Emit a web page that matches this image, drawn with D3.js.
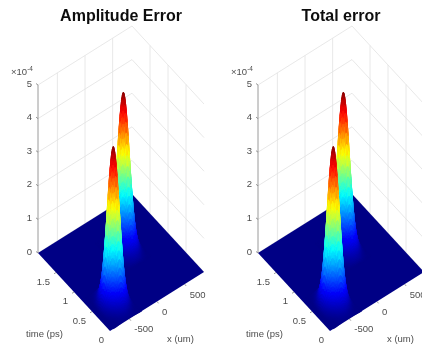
<!DOCTYPE html>
<html>
<head>
<meta charset="utf-8">
<script src="https://cdn.jsdelivr.net/npm/d3@7"></script>
<style>
  html, body { margin: 0; padding: 0; background: #fff; overflow: hidden; }
  text { font-family: "Liberation Sans", Arial, sans-serif; fill: #4d4d4d; font-size: 9.5px; filter: url(#softText); }
  .title { font-size: 16px; font-weight: bold; fill: #111; text-anchor: middle; }
</style>
</head>
<body>
<svg id="chart" width="422" height="350">
  <defs>
    <filter id="soft" x="-5%" y="-5%" width="110%" height="110%"><feGaussianBlur stdDeviation="0.45"/></filter>
    <filter id="softText" x="-10%" y="-20%" width="120%" height="140%"><feGaussianBlur stdDeviation="0.3"/></filter>
  </defs>
</svg>
<script>
// Values
const titles = ['Amplitude Error', 'Total error'];
const xTicks = [-500, 0, 500];
const timeTicks = [0, 0.5, 1, 1.5];
const zTicks = [0, 1, 2, 3, 4, 5];
const xRange = [-850, 850];
const timeRange = [0, 2];
const zRange = [0, 5];

// surface around the two peaks, z in units of 1e-4, rows = time, columns = x
const frontX = [-788, -745, -702, -659, -616, -573, -530, -487, -444, -401, -358, -315, -272];
const frontT = [0, 0.05, 0.1, 0.15, 0.2, 0.25, 0.3, 0.35, 0.4, 0.45, 0.5, 0.55, 0.6, 0.65, 0.7, 0.75, 0.8];
const frontZ = [
  [0, 0, 0.01, 0.02, 0.03, 0.04, 0.05, 0.04, 0.03, 0.02, 0.01, 0, 0],
  [0, 0.01, 0.01, 0.03, 0.05, 0.08, 0.09, 0.08, 0.05, 0.03, 0.01, 0.01, 0],
  [0, 0.01, 0.02, 0.06, 0.11, 0.16, 0.19, 0.16, 0.11, 0.06, 0.02, 0.01, 0],
  [0, 0.02, 0.05, 0.13, 0.24, 0.35, 0.40, 0.35, 0.24, 0.13, 0.05, 0.02, 0],
  [0, 0.04, 0.12, 0.29, 0.54, 0.78, 0.89, 0.78, 0.54, 0.29, 0.12, 0.04, 0],
  [0, 0.08, 0.24, 0.58, 1.07, 1.56, 1.77, 1.56, 1.07, 0.58, 0.24, 0.08, 0],
  [0, 0.13, 0.40, 0.95, 1.78, 2.59, 2.93, 2.59, 1.78, 0.95, 0.40, 0.13, 0],
  [0, 0.18, 0.56, 1.35, 2.51, 3.65, 4.14, 3.65, 2.51, 1.35, 0.56, 0.18, 0],
  [0, 0.21, 0.63, 1.53, 2.85, 4.15, 4.70, 4.15, 2.85, 1.53, 0.63, 0.21, 0],
  [0, 0.18, 0.56, 1.35, 2.51, 3.65, 4.14, 3.65, 2.51, 1.35, 0.56, 0.18, 0],
  [0, 0.13, 0.40, 0.95, 1.78, 2.59, 2.93, 2.59, 1.78, 0.95, 0.40, 0.13, 0],
  [0, 0.08, 0.24, 0.58, 1.07, 1.56, 1.77, 1.56, 1.07, 0.58, 0.24, 0.08, 0],
  [0, 0.04, 0.13, 0.32, 0.59, 0.85, 0.97, 0.85, 0.59, 0.32, 0.13, 0.04, 0],
  [0, 0.02, 0.07, 0.16, 0.30, 0.44, 0.50, 0.44, 0.30, 0.16, 0.07, 0.02, 0],
  [0, 0.01, 0.03, 0.08, 0.15, 0.22, 0.25, 0.22, 0.15, 0.08, 0.03, 0.01, 0],
  [0, 0.01, 0.02, 0.04, 0.08, 0.11, 0.13, 0.11, 0.08, 0.04, 0.02, 0.01, 0],
  [0, 0, 0, 0, 0, 0, 0, 0, 0, 0, 0, 0, 0]
];
const backX = [-98, -55, -12, 31, 74, 117, 160, 203, 246, 289, 332, 375, 418];
const backT = [0.78, 0.83, 0.88, 0.93, 0.98, 1.03, 1.08, 1.13, 1.18, 1.23, 1.28, 1.33, 1.38, 1.43, 1.48, 1.53, 1.58];
const backZ = [
  [0, 0, 0, 0, 0, 0, 0, 0, 0, 0, 0, 0, 0],
  [0, 0.01, 0.02, 0.04, 0.08, 0.11, 0.13, 0.11, 0.08, 0.04, 0.02, 0.01, 0],
  [0, 0.01, 0.03, 0.08, 0.15, 0.22, 0.25, 0.22, 0.15, 0.08, 0.03, 0.01, 0],
  [0, 0.02, 0.07, 0.16, 0.30, 0.44, 0.50, 0.44, 0.30, 0.16, 0.07, 0.02, 0],
  [0, 0.04, 0.13, 0.32, 0.59, 0.85, 0.97, 0.85, 0.59, 0.32, 0.13, 0.04, 0],
  [0, 0.08, 0.24, 0.58, 1.07, 1.56, 1.77, 1.56, 1.07, 0.58, 0.24, 0.08, 0],
  [0, 0.13, 0.40, 0.95, 1.78, 2.59, 2.93, 2.59, 1.78, 0.95, 0.40, 0.13, 0],
  [0, 0.18, 0.56, 1.35, 2.51, 3.65, 4.14, 3.65, 2.51, 1.35, 0.56, 0.18, 0],
  [0, 0.21, 0.63, 1.53, 2.85, 4.15, 4.70, 4.15, 2.85, 1.53, 0.63, 0.21, 0],
  [0, 0.18, 0.56, 1.35, 2.51, 3.65, 4.14, 3.65, 2.51, 1.35, 0.56, 0.18, 0],
  [0, 0.13, 0.40, 0.95, 1.78, 2.59, 2.93, 2.59, 1.78, 0.95, 0.40, 0.13, 0],
  [0, 0.08, 0.24, 0.58, 1.07, 1.56, 1.77, 1.56, 1.07, 0.58, 0.24, 0.08, 0],
  [0, 0.04, 0.13, 0.32, 0.59, 0.85, 0.97, 0.85, 0.59, 0.32, 0.13, 0.04, 0],
  [0, 0.02, 0.07, 0.16, 0.30, 0.44, 0.50, 0.44, 0.30, 0.16, 0.07, 0.02, 0],
  [0, 0.01, 0.03, 0.08, 0.15, 0.22, 0.25, 0.22, 0.15, 0.08, 0.03, 0.01, 0],
  [0, 0.01, 0.02, 0.04, 0.08, 0.11, 0.13, 0.11, 0.08, 0.04, 0.02, 0.01, 0],
  [0, 0, 0, 0, 0, 0, 0, 0, 0, 0, 0, 0, 0]
];

// jet colormap
const jet = d3.scaleLinear()
    .domain([0, 0.5875, 1.7625, 2.9375, 4.1125, 4.7])
    .range(['#000085', '#0000ff', '#00ffff', '#ffff00', '#ff0000', '#800000'])
    .clamp(true);

// oblique view: each data axis moves the point in both screen directions
const xToPx = d3.scaleLinear(xRange, [0, 94]);
const xToPy = d3.scaleLinear(xRange, [0, -59]);
const tToPx = d3.scaleLinear(timeRange, [0, -72]);
const tToPy = d3.scaleLinear(timeRange, [0, -78]);
const zToPy = d3.scaleLinear(zRange, [0, -168]);

const project = (x, t, z) => [xToPx(x) + tToPx(t), xToPy(x) + tToPy(t) + zToPy(z)];
const pts = arr => arr.map(p => p.join(',')).join(' ');

// Catmull-Rom weights, used only to shade smoothly between the grid values
const weights = u => [
    -0.5 * u + u * u - 0.5 * u * u * u,
    1 - 2.5 * u * u + 1.5 * u * u * u,
    0.5 * u + 2 * u * u - 1.5 * u * u * u,
    -0.5 * u * u + 0.5 * u * u * u
];

function smoothZ(zs, j, i, v, u){
    const wv = weights(v), wu = weights(u);
    const cl = (k, n) => Math.max(0, Math.min(n - 1, k));
    let sum = 0;
    wv.forEach((a, m) => wu.forEach((b, l) => {
        sum += a * b * zs[cl(j + m - 1, zs.length)][cl(i + l - 1, zs[0].length)];
    }));
    return Math.max(0, sum);
}

// split each cell so the colours blend like interpolated shading
function facets(xs, ts, zs, n = 4){
    const out = [];
    for(let j = ts.length - 2; j >= 0; j--){
        for(let sj = n - 1; sj >= 0; sj--){
            for(let i = xs.length - 2; i >= 0; i--){
                for(let si = n - 1; si >= 0; si--){
                    const at = (a, b) => {
                        const u = a / n, v = b / n;
                        return {
                            x: xs[i] + u * (xs[i + 1] - xs[i]),
                            t: ts[j] + v * (ts[j + 1] - ts[j]),
                            z: smoothZ(zs, j, i, v, u)
                        };
                    };
                    const c = [at(si, sj), at(si + 1, sj), at(si + 1, sj + 1), at(si, sj + 1)];
                    out.push({
                        points: pts(c.map(d => project(d.x, d.t, d.z))),
                        level: d3.mean(c, d => d.z)
                    });
                }
            }
        }
    }
    return out;
}

const backFacets = facets(backX, backT, backZ);
const frontFacets = facets(frontX, frontT, frontZ);

function drawPanel(svg, title, dx){
    svg.append('text').attr('class', 'title').attr('x', 121 + dx).attr('y', 20.5).text(title);

    const g = svg.append('g').attr('transform', `translate(${110 + dx},331)`);
    const [xa, xb] = xRange, tb = timeRange[1], zb = zRange[1];

    // back walls
    const grid = g.append('g').attr('stroke', '#e2e2e2').attr('stroke-width', 0.8).attr('fill', 'none');
    const line = (a, b) => grid.append('line')
        .attr('x1', a[0]).attr('y1', a[1]).attr('x2', b[0]).attr('y2', b[1]);
    zTicks.forEach(z => {
        line(project(xa, tb, z), project(xb, tb, z));
        line(project(xb, tb, z), project(xb, 0, z));
    });
    xTicks.forEach(x => line(project(x, tb, 0), project(x, tb, zb)));
    timeTicks.filter(t => t > 0).forEach(t => line(project(xb, t, 0), project(xb, t, zb)));

    // axes
    const axis = g.append('g').attr('stroke', '#808080').attr('stroke-width', 0.8).attr('fill', 'none');
    const axisLine = (a, b) => axis.append('line')
        .attr('x1', a[0]).attr('y1', a[1]).attr('x2', b[0]).attr('y2', b[1]);
    axisLine(project(xa, tb, 0), project(xa, tb, zb));

    // floor and surface
    const surf = g.append('g').attr('filter', 'url(#soft)');
    surf.append('polygon')
        .attr('points', pts([project(xa, 0, 0), project(xb, 0, 0), project(xb, tb, 0), project(xa, tb, 0)]))
        .attr('fill', jet(0));

    [backFacets, frontFacets].forEach(list => {
        surf.append('g').selectAll('polygon').data(list).join('polygon')
            .attr('points', d => d.points)
            .attr('fill', d => jet(d.level))
            .attr('stroke', d => jet(d.level))
            .attr('stroke-width', 0.4);
    });

    // ticks
    zTicks.forEach(z => {
        const p = project(xa, tb, z);
        axisLine(p, [p[0] - 2, p[1] - 1.5]);
        g.append('text').attr('x', p[0] - 6).attr('y', p[1] - 1).attr('dominant-baseline', 'middle')
            .attr('text-anchor', 'end').text(z);
    });
    xTicks.forEach(x => {
        const p = project(x, 0, 0);
        axisLine(p, [p[0] + 1.5, p[1] + 1.8]);
        g.append('text').attr('x', p[0] + 5).attr('y', p[1] + 11).attr('dominant-baseline', 'middle')
            .text(x);
    });
    timeTicks.forEach(t => {
        const p = project(xa, t, 0);
        if(t > 0) axisLine(p, [p[0] - 2, p[1] + 1.3]);
        g.append('text').attr('x', p[0] - 6).attr('y', p[1] + 9.5).attr('dominant-baseline', 'middle')
            .attr('text-anchor', 'end').text(t);
    });

    // axis labels and exponent
    svg.append('text').attr('x', 26 + dx).attr('y', 336.5).text('time (ps)');
    svg.append('text').attr('x', 167 + dx).attr('y', 341.5).text('x (um)');
    const exp = svg.append('text').attr('x', 11 + dx).attr('y', 74.5);
    exp.append('tspan').text('\u00d710');
    exp.append('tspan').attr('dy', -3.5).style('font-size', '6.5px').text('-4');
}

const svg = d3.select('#chart');
titles.forEach((t, i) => drawPanel(svg, t, i * 220));
</script>
</body>
</html>
